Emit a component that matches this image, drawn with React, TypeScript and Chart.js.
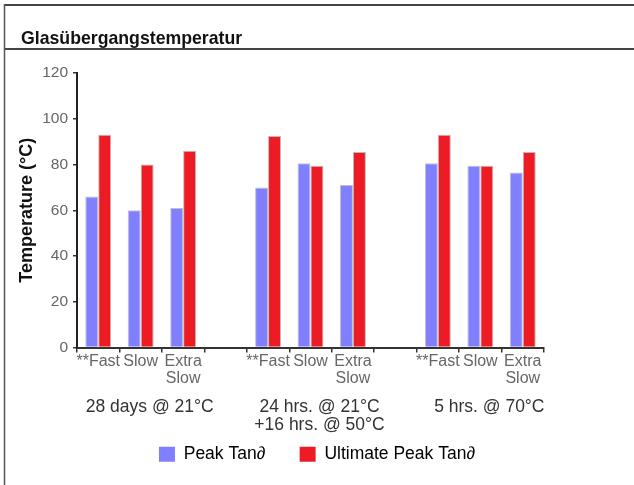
import React, { useEffect, useRef } from "react";
import { Chart, registerables } from "chart.js";

Chart.register(...registerables);

const chartTitle = "Glasübergangstemperatur";
const categories: (string | string[])[] = [
  "**Fast", "Slow", ["Extra", "Slow"], "",
  "**Fast", "Slow", ["Extra", "Slow"], "",
  "**Fast", "Slow", ["Extra", "Slow"],
];
const groupLabels: string[][] = [
  ["28 days @ 21°C"],
  ["24 hrs. @ 21°C", "+16 hrs. @ 50°C"],
  ["5 hrs. @ 70°C"],
];
const groupCenterIndex = [1, 5, 9];
const seriesNames = ["Peak Tan∂", "Ultimate Peak Tan∂"];
const peakTan = [66, 60, 61, null, 70, 80.5, 71, null, 80.5, 79.5, 76.5];
const ultimatePeakTan = [93, 80, 86, null, 92.5, 79.5, 85.5, null, 93, 79.5, 85.5];
const yTicks = [0, 20, 40, 60, 80, 100, 120];

const FONT = "Arial, 'Liberation Sans', Helvetica, sans-serif";

const framePlugin = {
  id: "frame",
  beforeDraw(chart: any) {
    const ctx = chart.ctx;
    const w = chart.width;
    const h = chart.height;
    ctx.save();
    ctx.fillStyle = "#ffffff";
    ctx.fillRect(0, 0, w, h);
    ctx.strokeStyle = "#444";
    ctx.lineWidth = 2;
    ctx.beginPath();
    ctx.moveTo(4, 5);
    ctx.lineTo(w, 5);
    ctx.moveTo(4, 49);
    ctx.lineTo(w, 49);
    ctx.stroke();
    ctx.strokeStyle = "#555";
    ctx.lineWidth = 1.5;
    ctx.beginPath();
    ctx.moveTo(4.5, 4);
    ctx.lineTo(4.5, h);
    ctx.stroke();
    ctx.fillStyle = "#111";
    ctx.font = `bold 17.7px ${FONT}`;
    ctx.textAlign = "left";
    ctx.textBaseline = "alphabetic";
    ctx.fillText(chartTitle, 21, 44);
    ctx.restore();
  },
  afterDraw(chart: any) {
    const ctx = chart.ctx;
    const xs = chart.scales.x;
    ctx.save();
    ctx.fillStyle = "#333";
    ctx.font = `17.5px ${FONT}`;
    ctx.textAlign = "center";
    ctx.textBaseline = "middle";
    groupLabels.forEach((lines, gi) => {
      const cx = xs.getPixelForValue(groupCenterIndex[gi]) + 9;
      lines.forEach((line, li) => {
        ctx.fillText(line, cx, xs.top + 60 + li * 18);
      });
    });
    ctx.restore();
  },
};

export default function App() {
  const ref = useRef<HTMLCanvasElement | null>(null);
  useEffect(() => {
    document.body.style.margin = "0";
    document.body.style.overflow = "hidden";
    const canvas = ref.current!;
    const chart = new Chart(canvas, {
      type: "bar",
      data: {
        labels: categories,
        datasets: [
          {
            label: seriesNames[0],
            data: peakTan,
            backgroundColor: "#8080ff",
            borderColor: "rgba(150,150,170,0.6)",
            borderWidth: 1,
            yAxisID: "y",
          },
          {
            label: seriesNames[1],
            data: ultimatePeakTan,
            backgroundColor: "#ed1c24",
            borderColor: "rgba(170,150,150,0.7)",
            borderWidth: 1,
            yAxisID: "y",
          },
        ],
      },
      options: {
        responsive: false,
        animation: false,
        devicePixelRatio: 1,
        layout: { padding: { top: 73, left: 0, right: 0, bottom: 12 } },
        datasets: { bar: { categoryPercentage: 0.61, barPercentage: 1 } },
        plugins: {
          title: { display: false },
          tooltip: { enabled: false },
          legend: {
            display: true,
            position: "bottom",
            labels: {
              boxWidth: 16,
              boxHeight: 15,
              padding: 10,
              color: "#444",
              font: { family: FONT, size: 17.5 },
              generateLabels: (c: any) =>
                c.data.datasets.map((d: any, i: number) => ({
                  text: i === 0 ? d.label + "     " : d.label,
                  fillStyle: d.backgroundColor,
                  strokeStyle: d.backgroundColor,
                  lineWidth: 0,
                  datasetIndex: i,
                  hidden: false,
                })),
            },
          },
        },
        scales: {
          x: {
            type: "category",
            offset: true,
            grid: {
              display: true,
              drawOnChartArea: false,
              drawTicks: true,
              tickLength: 5,
              color: "#333",
              lineWidth: 1.5,
            },
            border: { display: true, color: "#333", width: 2 },
            ticks: {
              color: "#666",
              font: { family: FONT, size: 16, lineHeight: 1.1 },
              padding: 0,
              maxRotation: 0,
              minRotation: 0,
              autoSkip: false,
            },
            afterFit: (s: any) => {
              s.height = 88;
            },
          },
          y: {
            type: "linear",
            position: "left",
            min: 0,
            max: 120,
            afterBuildTicks: (s: any) => {
              s.ticks = yTicks.map((v) => ({ value: v }));
            },
            grid: {
              display: true,
              drawOnChartArea: false,
              drawTicks: true,
              tickLength: 4,
              color: "#333",
              lineWidth: 1.5,
            },
            border: { display: true, color: "#222", width: 2 },
            ticks: {
              color: "#666",
              font: { family: FONT, size: 15.5 },
              padding: 5,
            },
            title: {
              display: true,
              text: "Temperature (°C)",
              color: "#111",
              font: { family: FONT, size: 18, weight: "bold" },
              padding: { top: 16, bottom: 0 },
            },
            afterFit: (s: any) => {
              s.width = 77;
            },
          },
          yRight: {
            type: "linear",
            position: "right",
            display: true,
            min: 0,
            max: 120,
            grid: { display: false },
            border: { display: false },
            ticks: { display: false },
            afterFit: (s: any) => {
              s.width = 90;
            },
          },
        },
      },
      plugins: [framePlugin],
    });
    return () => chart.destroy();
  }, []);
  return <canvas ref={ref} width={634} height={485} style={{ display: "block" }} />;
}
